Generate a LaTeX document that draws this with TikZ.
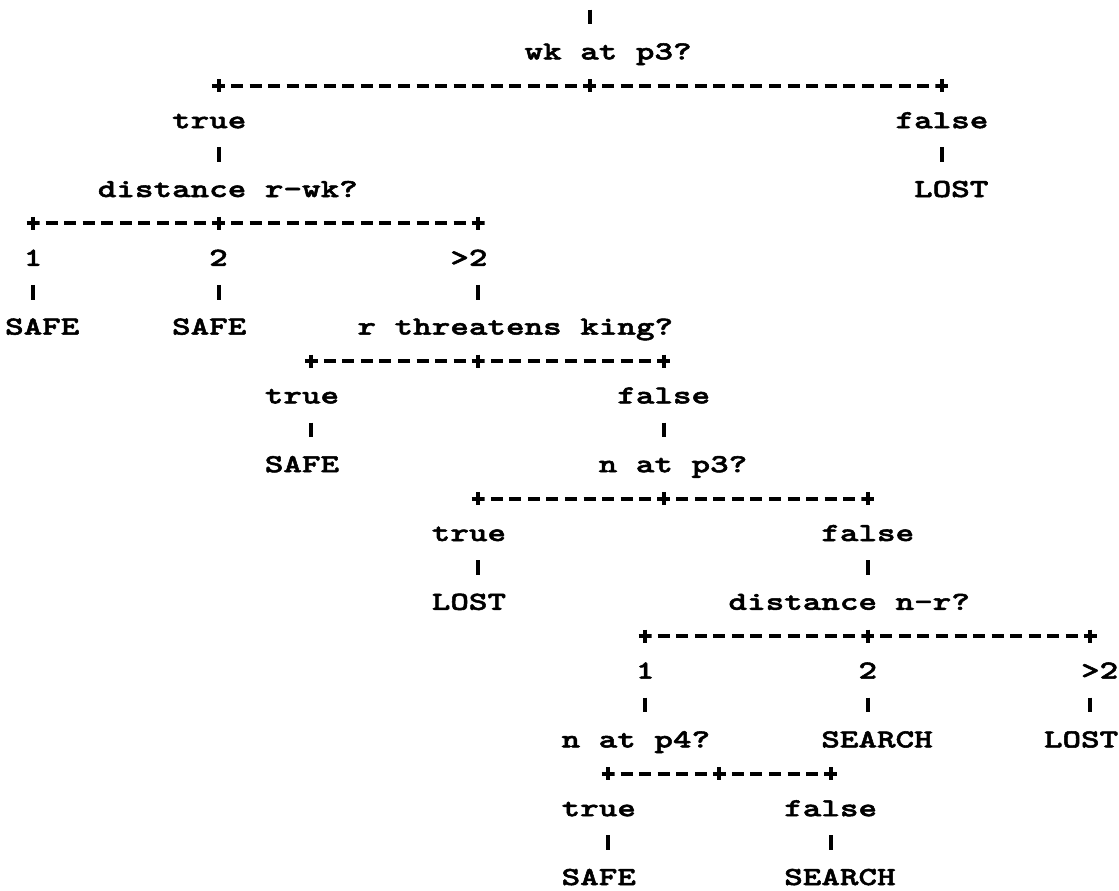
\documentclass[tikz,border=0pt]{standalone}
\usepackage{fontspec}
\newfontfamily\ttyfont{lmmonolt10-bold.otf}[FakeStretch=1.36,FakeBold=2]
\begin{document}
\begin{tikzpicture}[x=18.55pt,y=-34.4pt,
  lbl/.style={font=\ttyfont\fontsize{26pt}{26pt}\selectfont,inner sep=0pt,text height=16pt,text depth=0pt},
  split/.style={inner sep=0pt,minimum size=13pt,path picture={\draw[line width=4pt]
      (path picture bounding box.west)--(path picture bounding box.east)
      (path picture bounding box.north)--(path picture bounding box.south);}},
  dashrow/.style={line width=4pt,dash pattern=on 12pt off 6.55pt,dash phase=6pt},
  stem/.style={line width=4pt,shorten <=18.9pt,shorten >=18.9pt}]
\useasboundingbox (-1.779,-0.4942) rectangle (58.544,25.378);
% root question
\coordinate (in) at ([yshift=7.5pt]30,0);
\node[lbl] (q1) at (31,1) {wk at p3?};
\draw[stem,shorten <=0pt] (in)--(in |- q1.north);
\node[split] (s1a) at (10,2) {};
\node[split] (s1b) at (30,2) {};
\node[split] (s1c) at (49,2) {};
\draw[dashrow] (s1a.center)--(s1b.center)--(s1c.center);
\node[lbl] (t1) at (9.5,3) {true};
\node[lbl] (f1) at (49,3) {false};
\node[lbl] (q2) at (10.5,5) {distance r-wk?};
\node[lbl] (lost1) at (49.5,5) {LOST};
\draw[stem] (s1a |- t1.south)--(s1a |- q2.north);
\draw[stem] (s1c |- f1.south)--(s1c |- lost1.north);
% distance rook - white king
\node[split] (s2a) at (0,6) {};
\node[split] (s2b) at (10,6) {};
\node[split] (s2c) at (24,6) {};
\draw[dashrow] (s2a.center)--(s2b.center)--(s2c.center);
\node[lbl] (one1) at (0,7) {1};
\node[lbl] (two1) at (10,7) {2};
\node[lbl] (more1) at (23.5,7) {>2};
\node[lbl] (safe1) at (0.5,9) {SAFE};
\node[lbl] (safe2) at (9.5,9) {SAFE};
\node[lbl] (q3) at (26,9) {r threatens king?};
\draw[stem] (s2a |- one1.south)--(s2a |- safe1.north);
\draw[stem] (s2b |- two1.south)--(s2b |- safe2.north);
\draw[stem] (s2c |- more1.south)--(s2c |- q3.north);
% rook threatens king
\node[split] (s3a) at (15,10) {};
\node[split] (s3b) at (24,10) {};
\node[split] (s3c) at (34,10) {};
\draw[dashrow] (s3a.center)--(s3b.center)--(s3c.center);
\node[lbl] (t3) at (14.5,11) {true};
\node[lbl] (f3) at (34,11) {false};
\node[lbl] (safe3) at (14.5,13) {SAFE};
\node[lbl] (q4) at (34.5,13) {n at p3?};
\draw[stem] (s3a |- t3.south)--(s3a |- safe3.north);
\draw[stem] (s3c |- f3.south)--(s3c |- q4.north);
% knight at p3
\node[split] (s4a) at (24,14) {};
\node[split] (s4b) at (34,14) {};
\node[split] (s4c) at (45,14) {};
\draw[dashrow] (s4a.center)--(s4b.center)--(s4c.center);
\node[lbl] (t4) at (23.5,15) {true};
\node[lbl] (f4) at (45,15) {false};
\node[lbl] (lost2) at (23.5,17) {LOST};
\node[lbl] (q5) at (44,17) {distance n-r?};
\draw[stem] (s4a |- t4.south)--(s4a |- lost2.north);
\draw[stem] (s4c |- f4.south)--(s4c |- q5.north);
% distance knight - rook
\node[split] (s5a) at (33,18) {};
\node[split] (s5b) at (45,18) {};
\node[split] (s5c) at (57,18) {};
\draw[dashrow] (s5a.center)--(s5b.center)--(s5c.center);
\node[lbl] (one5) at (33,19) {1};
\node[lbl] (two5) at (45,19) {2};
\node[lbl] (more5) at (57.5,19) {>2};
\node[lbl] (q6) at (32.5,21) {n at p4?};
\node[lbl] (search1) at (45.5,21) {SEARCH};
\node[lbl] (lost3) at (56.5,21) {LOST};
\draw[stem] (s5a |- one5.south)--(s5a |- q6.north);
\draw[stem] (s5b |- two5.south)--(s5b |- search1.north);
\draw[stem] (s5c |- more5.south)--(s5c |- lost3.north);
% knight at p4
\node[split] (s6a) at (31,22) {};
\node[split] (s6b) at (37,22) {};
\node[split] (s6c) at (43,22) {};
\draw[dashrow] (s6a.center)--(s6b.center)--(s6c.center);
\node[lbl] (t6) at (30.5,23) {true};
\node[lbl] (f6) at (43,23) {false};
\node[lbl] (safe4) at (30.5,25) {SAFE};
\node[lbl] (search2) at (43.5,25) {SEARCH};
\draw[stem] (s6a |- t6.south)--(s6a |- safe4.north);
\draw[stem] (s6c |- f6.south)--(s6c |- search2.north);
\end{tikzpicture}
\end{document}
